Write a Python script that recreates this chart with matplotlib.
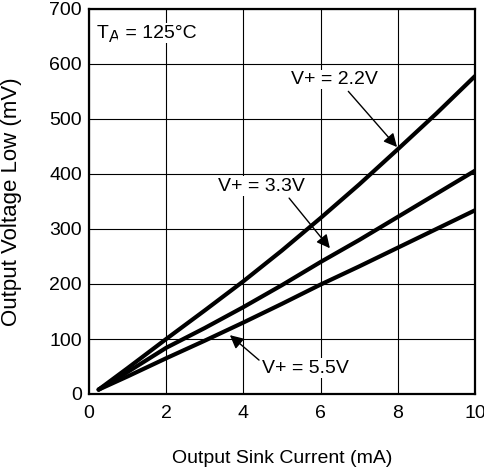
import numpy as np
import matplotlib.pyplot as plt

plt.rcParams['font.family'] = ['Liberation Sans', 'DejaVu Sans']

# output sink current (mA) and output voltage low (mV)
current = [0.25, 1, 2, 3, 4, 5, 6, 7, 8, 9, 10]
v22 = [8, 47, 100, 152, 205, 261, 320, 381, 445, 510, 578]
v33 = [8, 40, 84, 120, 158, 198, 240, 280, 322, 364, 406]
v55 = [8, 32, 65, 97, 130, 164, 199, 232, 266, 300, 334]

fig = plt.figure(figsize=(4.85, 4.69), dpi=100)
ax = fig.add_axes([89/485, 1 - 394/469, 386/485, 385/469])

for y in (v22, v33, v55):
    ax.plot(current, y, color='black', lw=3, solid_capstyle='round')

ax.set_xlim(0, 10)
ax.set_ylim(0, 700)
ax.set_xticks(np.arange(0, 11, 2))
ax.set_yticks(np.arange(0, 701, 100))
ax.grid(True, color='black', lw=0.8)
ax.set_axisbelow(True)
ax.tick_params(length=0, labelsize=14)
ax.tick_params(axis='x', pad=8)
ax.tick_params(axis='y', pad=5)
for s in ax.spines.values():
    s.set_linewidth(1.6)

ax.set_xlabel('Output Sink Current (mA)', fontsize=14, labelpad=20)
ax.set_ylabel('Output Voltage Low (mV)', fontsize=16, labelpad=20)

# T_A = 125°C, subscript built by hand so the A stays fairly large
box = dict(facecolor='white', edgecolor='none', pad=1)
t1 = ax.text(0.2, 656, 'T', fontsize=14, va='center', ha='left', bbox=box)
t2 = ax.annotate('A', xy=(1, 0.5), xycoords=t1, xytext=(0, -3), textcoords='offset points',
                 fontsize=12, va='center', ha='left', bbox=box)
ax.annotate(' = 125°C', xy=(1, 0.5), xycoords=t2, xytext=(0, 3), textcoords='offset points',
            fontsize=14, va='center', ha='left', bbox=box)

arrow = dict(arrowstyle='-|>', color='black', lw=1, mutation_scale=20, shrinkA=2, shrinkB=0)
ax.annotate('V+ = 2.2V', xy=(7.98, 449), xytext=(6.37, 572), fontsize=14,
            ha='center', va='center', bbox=box,
            arrowprops=dict(arrow, relpos=(0.62, 0)))
ax.annotate('V+ = 3.3V', xy=(6.24, 265), xytext=(4.48, 378), fontsize=14,
            ha='center', va='center', bbox=box,
            arrowprops=dict(arrow, relpos=(0.78, 0)))
ax.annotate('V+ = 5.5V', xy=(3.65, 107), xytext=(5.62, 47), fontsize=14,
            ha='center', va='center', bbox=box,
            arrowprops=dict(arrow, relpos=(0, 0.8)))

fig.savefig('out.png', dpi=100)
